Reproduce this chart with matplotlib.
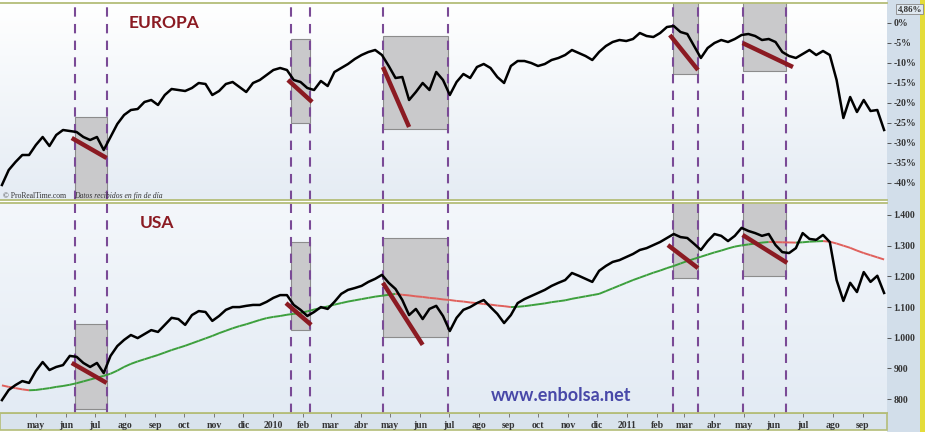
import numpy as np
import pandas as pd
import matplotlib
matplotlib.use("Agg")
import matplotlib.pyplot as plt
import matplotlib.dates as mdates
from matplotlib.collections import LineCollection
from matplotlib.colors import LinearSegmentedColormap
from matplotlib.patches import Rectangle
from matplotlib.ticker import FuncFormatter, FixedLocator

# weekly closes
weeks = pd.date_range("2009-03-27", periods=131, freq="7D")

europa = [-40.5, -36.75, -34.75, -33.0, -33.0, -30.5, -28.5, -30.75, -28.0, -26.75,
          -27.0, -27.25, -28.5, -29.25, -28.5, -31.75, -28.5, -25.25, -23.0, -21.75,
          -21.5, -19.75, -19.25, -20.5, -18.0, -16.5, -16.75, -17.0, -16.25, -15.0,
          -15.25, -18.0, -17.0, -15.25, -14.75, -16.0, -17.25, -15.0, -14.25, -13.0,
          -11.75, -11.25, -11.75, -14.25, -14.75, -16.25, -16.75, -14.5, -15.75, -12.25,
          -11.25, -10.25, -9.0, -8.0, -7.25, -6.75, -8.0, -10.75, -13.75, -13.5,
          -19.25, -17.25, -15.0, -16.75, -12.25, -14.25, -18.0, -14.75, -12.75, -13.75,
          -11.0, -10.25, -11.25, -13.5, -15.0, -10.75, -9.5, -9.5, -10.0, -10.75,
          -10.25, -9.25, -8.75, -8.0, -6.75, -7.5, -8.25, -9.25, -7.25, -5.75,
          -4.75, -4.25, -4.5, -4.0, -2.5, -3.25, -3.5, -2.5, -1.0, -0.75,
          -2.25, -2.75, -5.75, -8.75, -6.25, -5.0, -4.25, -4.75, -4.0, -3.0,
          -2.75, -3.25, -4.25, -4.0, -4.75, -7.25, -8.25, -8.75, -7.75, -6.75,
          -8.0, -7.0, -8.0, -14.25, -23.75, -18.5, -22.25, -19.25, -22.0, -21.75,
          -26.75]

usa = [797, 830, 846, 859, 853, 892, 921, 895, 905, 911,
       941, 938, 918, 905, 918, 885, 941, 973, 993, 1009,
       999, 1012, 1025, 1019, 1042, 1065, 1061, 1042, 1074, 1087,
       1084, 1055, 1071, 1091, 1100, 1100, 1104, 1107, 1107, 1117,
       1130, 1139, 1139, 1107, 1091, 1071, 1084, 1100, 1094, 1117,
       1143, 1156, 1162, 1169, 1182, 1192, 1205, 1179, 1159, 1123,
       1074, 1094, 1061, 1094, 1104, 1071, 1022, 1065, 1091, 1100,
       1113, 1123, 1100, 1078, 1048, 1074, 1113, 1126, 1136, 1146,
       1156, 1169, 1179, 1188, 1211, 1202, 1192, 1182, 1218, 1234,
       1247, 1253, 1263, 1273, 1286, 1292, 1302, 1312, 1325, 1338,
       1328, 1325, 1306, 1286, 1315, 1338, 1332, 1315, 1332, 1358,
       1348, 1341, 1332, 1338, 1302, 1279, 1276, 1292, 1341, 1322,
       1319, 1335, 1312, 1188, 1120, 1179, 1149, 1214, 1182, 1202,
       1146]

usa_ma = [845, 840, 836, 832, 829, 830, 833, 836, 840, 843,
          847, 852, 858, 864, 870, 876, 883, 893, 905, 915,
          923, 930, 937, 944, 952, 960, 967, 974, 982, 990,
          998, 1006, 1015, 1023, 1031, 1038, 1044, 1051, 1058, 1064,
          1068, 1071, 1075, 1078, 1081, 1086, 1092, 1097, 1102, 1108,
          1113, 1118, 1122, 1126, 1130, 1134, 1137, 1140, 1143, 1140,
          1138, 1135, 1133, 1130, 1128, 1125, 1123, 1120, 1118, 1115,
          1113, 1110, 1108, 1105, 1103, 1100, 1101, 1103, 1106, 1109,
          1112, 1116, 1119, 1122, 1127, 1131, 1135, 1139, 1143, 1152,
          1161, 1170, 1179, 1188, 1196, 1204, 1212, 1219, 1227, 1234,
          1242, 1250, 1257, 1264, 1271, 1278, 1284, 1291, 1297, 1301,
          1304, 1307, 1310, 1312, 1311.5, 1311, 1310.5, 1310, 1311, 1313,
          1314, 1315, 1313, 1307, 1300, 1293, 1284, 1276, 1269, 1262,
          1255]

# correction zones (gray boxes between dashed lines)
zone_start = ["2009-06-10", "2010-01-19", "2010-04-24", "2011-02-17", "2011-04-30"]
zone_end = ["2009-07-13", "2010-02-08", "2010-06-30", "2011-03-15", "2011-06-14"]
eu_box_top = [-23.5, -4.0, -3.25, 10, 10]
eu_box_bottom = [-50, -25.0, -26.5, -12.75, -12.0]
us_box_top = [1045, 1312, 1325, 1500, 1500]
us_box_bottom = [768, 1025, 1003, 1195, 1201]

# trend lines
eu_trend_dates = [("2009-06-07", "2009-07-13"), ("2010-01-16", "2010-02-10"),
                  ("2010-04-24", "2010-05-21"), ("2011-02-14", "2011-03-15"),
                  ("2011-04-30", "2011-06-21")]
eu_trend_vals = [(-28.75, -33.75), (-14.25, -19.75), (-11, -26), (-3, -11.75), (-5, -11)]
us_trend_dates = [("2009-06-07", "2009-07-13"), ("2010-01-14", "2010-02-09"),
                  ("2010-04-24", "2010-06-04"), ("2011-02-12", "2011-03-15"),
                  ("2011-04-30", "2011-06-15")]
us_trend_vals = [(918, 853), (1113, 1042), (1179, 977), (1302, 1227), (1335, 1244)]

eu_ticks = [0, -5, -10, -15, -20, -25, -30, -35, -40]
us_ticks = [800, 900, 1000, 1100, 1200, 1300, 1400]
month_ticks = pd.date_range("2009-05-01", "2011-09-01", freq="MS")
meses = ["ene", "feb", "mar", "abr", "may", "jun", "jul", "ago", "sep", "oct", "nov", "dic"]

x0 = pd.Timestamp("2009-03-25")
x1 = pd.Timestamp("2011-09-26")
olive = "#b4bd78"
purple = "#7a4a96"
darkred = "#8b1a22"

fig = plt.figure(figsize=(9.27, 4.32), dpi=100)
fig.patch.set_facecolor("white")

# right scale strip, yellow border, date strip (behind the axes)
fig.patches.append(Rectangle((887 / 927, 0.0), 34 / 927, 1.0, transform=fig.transFigure,
                             facecolor="#d2deea", edgecolor="none", zorder=-2))
fig.patches.append(Rectangle((920 / 927, 0.0), 5 / 927, 1.0, transform=fig.transFigure,
                             facecolor="#e4dc3a", edgecolor="none", zorder=-2))
fig.patches.append(Rectangle((0, 2 / 432), 887 / 927, 17 / 432, transform=fig.transFigure,
                             facecolor="#d9e3ec", edgecolor=olive, lw=1.2, zorder=-2))

ax_eu = fig.add_axes([0, 1 - 200 / 432, 887 / 927, 197 / 432])
ax_us = fig.add_axes([0, 1 - 413 / 432, 887 / 927, 210 / 432])

grad_eu = LinearSegmentedColormap.from_list("g1", ["#e5ecf4", "#ffffff"])
grad_us = LinearSegmentedColormap.from_list("g2", ["#e3ebf4", "#f4f7fb"])


def panel(ax, values, box_top, box_bottom, trend_dates, trend_vals, cmap):
    ax.plot(weeks, values, color="black", lw=1.8, zorder=4)
    for s, e, t, b in zip(zone_start, zone_end, box_top, box_bottom):
        s = mdates.date2num(pd.Timestamp(s))
        e = mdates.date2num(pd.Timestamp(e))
        ax.add_patch(Rectangle((s, b), e - s, t - b, facecolor="#c9c9cb",
                               edgecolor="#8c8c8c", lw=0.8, zorder=1))
        for d in (s, e):
            ax.axvline(d, color=purple, lw=1.5, ls=(0, (4.5, 3.5)), zorder=2)
    for (d0, d1), (v0, v1) in zip(trend_dates, trend_vals):
        ax.plot([pd.Timestamp(d0), pd.Timestamp(d1)], [v0, v1], color=darkred,
                lw=3.2, solid_capstyle="butt", zorder=5)
    ax.imshow(np.linspace(0, 1, 200).reshape(-1, 1), cmap=cmap, extent=[0, 1, 0, 1],
              transform=ax.transAxes, aspect="auto", origin="lower", zorder=0)
    ax.set_xlim(x0, x1)
    ax.xaxis.set_major_locator(FixedLocator(mdates.date2num(month_ticks)))
    for side in ["left", "right"]:
        ax.spines[side].set_visible(False)
    for side in ["top", "bottom"]:
        ax.spines[side].set_color(olive)
        ax.spines[side].set_linewidth(1.3)
    ax.yaxis.tick_right()
    ax.tick_params(axis="y", right=True, left=False, length=3, width=0.7, color="#555555",
                   pad=1.5, labelsize=7, labelcolor="#333333")


panel(ax_eu, europa, eu_box_top, eu_box_bottom, eu_trend_dates, eu_trend_vals, grad_eu)
panel(ax_us, usa, us_box_top, us_box_bottom, us_trend_dates, us_trend_vals, grad_us)

# moving average, green when rising, red when falling
xnum = mdates.date2num(weeks)
pts = np.column_stack([xnum, usa_ma]).reshape(-1, 1, 2)
segs = np.concatenate([pts[:-1], pts[1:]], axis=1)
cols = ["#3c9f3c" if b >= a else "#e0605c" for a, b in zip(usa_ma[:-1], usa_ma[1:])]
ax_us.add_collection(LineCollection(segs, colors=cols, lw=1.4, zorder=3))

ax_eu.set_ylim(-44.25, 5.0)
ax_eu.yaxis.set_major_locator(FixedLocator(eu_ticks))
ax_eu.yaxis.set_major_formatter(FuncFormatter(lambda v, p: f"{int(v)}%"))
ax_eu.tick_params(axis="x", bottom=False, labelbottom=False)

ax_us.set_ylim(755, 1439)
ax_us.yaxis.set_major_locator(FixedLocator(us_ticks))
ax_us.yaxis.set_major_formatter(FuncFormatter(lambda v, p: f"{int(v):,}".replace(",", ".")))


def mes(v, p):
    d = mdates.num2date(v)
    return str(d.year) if d.month == 1 else meses[d.month - 1]


ax_us.xaxis.set_major_formatter(FuncFormatter(mes))
ax_us.tick_params(axis="x", length=3, width=0.7, color="#777777", pad=2.5,
                  labelsize=7, labelcolor="#333333")
for ax in (ax_eu, ax_us):
    for lab in ax.get_yticklabels() + ax.get_xticklabels():
        lab.set_family("Liberation Serif")
        lab.set_weight("bold")

ax_eu.text(1.012, 3.5, "4,86%", transform=ax_eu.get_yaxis_transform(), fontsize=6.5,
           family="Liberation Serif", weight="bold", color="#333333", va="center",
           bbox=dict(boxstyle="square,pad=0.15", facecolor="#dfe8f0", edgecolor="#888888", lw=0.6))

ax_eu.text(0.1445, 0.9, "EUROPA", transform=ax_eu.transAxes, fontsize=12.5,
           family="Lato", weight="bold", color=darkred, ha="left", va="center", zorder=6)
ax_us.text(0.158, 0.905, "USA", transform=ax_us.transAxes, fontsize=12.5,
           family="Lato", weight="bold", color=darkred, ha="left", va="center", zorder=6)
ax_us.text(0.553, 0.085, "www.enbolsa.net", transform=ax_us.transAxes, fontsize=13,
           family="Lato", weight="bold", color="#4848a8", ha="left", va="center", zorder=6)
ax_eu.text(0.003, 0.022, "\u00a9 ProRealTime.com", transform=ax_eu.transAxes, fontsize=5.5,
           family="Liberation Serif", color="#333333", ha="left", va="center", zorder=6)
ax_eu.text(0.083, 0.022, "Datos recibidos en fin de d\u00eda", transform=ax_eu.transAxes,
           fontsize=5.5, family="Liberation Serif", style="italic", color="#333333",
           ha="left", va="center", zorder=6)

fig.savefig("out.png", dpi=100)
